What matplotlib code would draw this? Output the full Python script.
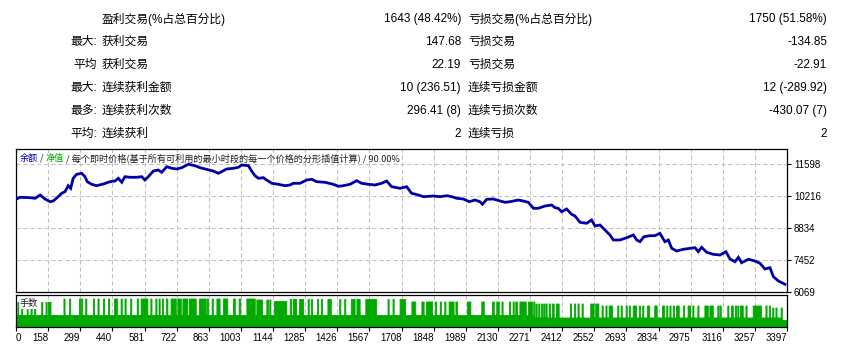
import matplotlib
matplotlib.use("Agg")
import matplotlib.pyplot as plt
import numpy as np

# ---------------- data ----------------
row_prefix = ["", "最大:", "平均", "最大:", "最多:", "平均:"]
win_labels = ["盈利交易(%占总百分比)", "获利交易", "获利交易", "连续获利金额", "连续获利次数", "连续获利"]
win_values = ["1643 (48.42%)", "147.68", "22.19", "10 (236.51)", "296.41 (8)", "2"]
loss_labels = ["亏损交易(%占总百分比)", "亏损交易", "亏损交易", "连续亏损金额", "连续亏损次数", "连续亏损"]
loss_values = ["1750 (51.58%)", "-134.85", "-22.91", "12 (-289.92)", "-430.07 (7)", "2"]

x_tick_labels = ["0", "158", "299", "440", "581", "722", "863", "1003", "1144", "1285",
                 "1426", "1567", "1708", "1848", "1989", "2130", "2271", "2412", "2552",
                 "2693", "2834", "2975", "3116", "3257", "3397"]
y_ticks = [6069, 7452, 8834, 10216, 11598]
y_top = 12245
n_trades = 3393

balance_trade = [0, 18, 62, 84, 106, 128, 150, 164, 186, 201, 216, 230, 241, 252, 267, 289, 304, 314,
                 333, 355, 385, 414, 436, 451, 466, 480, 502, 532, 554, 568, 583, 605, 627, 642, 664,
                 686, 708, 730, 759, 789, 811, 840, 869, 891, 906, 928, 958, 980, 994, 1024, 1038,
                 1053, 1068, 1090, 1104, 1127, 1156, 1185, 1207, 1222, 1251, 1281, 1303, 1325, 1361,
                 1398, 1420, 1442, 1472, 1501, 1523, 1552, 1582, 1611, 1633, 1655, 1692, 1721, 1743,
                 1773, 1795, 1839, 1868, 1898, 1920, 1942, 1971, 1997, 2022, 2044, 2055, 2074, 2103,
                 2133, 2155, 2177, 2213, 2235, 2257, 2280, 2301, 2331, 2360, 2375, 2389, 2404, 2426,
                 2448, 2463, 2485, 2514, 2536, 2551, 2573, 2595, 2617, 2632, 2661, 2691, 2720, 2735,
                 2749, 2767, 2793, 2815, 2837, 2859, 2874, 2889, 2911, 2940, 2970, 2992, 3006, 3021,
                 3043, 3072, 3102, 3128, 3146, 3168, 3183, 3197, 3227, 3256, 3278, 3300, 3322, 3337,
                 3359, 3388]
balance_value = [10073, 10159, 10142, 10116, 10258, 10086, 9969, 9999, 10185, 10332, 10401, 10660,
                 10548, 10980, 11152, 11196, 11049, 10833, 10721, 10660, 10734, 10833, 10863, 10980,
                 10807, 11049, 11023, 11023, 11049, 10906, 11049, 11295, 11338, 11239, 11481, 11412,
                 11381, 11437, 11584, 11524, 11437, 11368, 11295, 11196, 11265, 11381, 11412, 11455,
                 11554, 11524, 11295, 11092, 10980, 11006, 10906, 10764, 10721, 10660, 10690, 10764,
                 10764, 10906, 10937, 10833, 10807, 10721, 10634, 10660, 10721, 10876, 10764, 10721,
                 10690, 10764, 10863, 10617, 10548, 10617, 10332, 10258, 10185, 10215, 10185, 10228,
                 10185, 10116, 10086, 9969, 10042, 9969, 9857, 10073, 10086, 9999, 9943, 9969, 10042,
                 9999, 9943, 9684, 9684, 9783, 9827, 9710, 9684, 9537, 9654, 9425, 9351, 9079, 9036,
                 9179, 8920, 8963, 8747, 8531, 8315, 8315, 8414, 8531, 8315, 8241, 8457, 8501, 8501,
                 8604, 8241, 8315, 7956, 7840, 7913, 7956, 7982, 7810, 8000, 7784, 7697, 7667, 7810,
                 7494, 7378, 7568, 7334, 7481, 7408, 7309, 7062, 7119, 6730, 6544, 6402]

# volume (lots per trade): base level by era, tall spikes by trade ranges
base_start = [0, 2280, 3370]
base_lot = [0.12, 0.095, 0.07]
tall_era_start = [0, 200, 1050, 1130, 1200, 1700, 2280, 2560, 3330]
tall_era_lot = [0.25, 0.285, 0.275, 0.26, 0.28, 0.255, 0.235, 0.215, 0.195]
tall_ranges = [(6, 10), (23, 27), (47, 51), (64, 69), (80, 85), (111, 116), (130, 135), (141, 152),
               (209, 214), (234, 239), (277, 282), (287, 292), (305, 310), (339, 344), (359, 364),
               (383, 388), (405, 410), (432, 446), (461, 466), (478, 483), (503, 508), (532, 537),
               (549, 579), (592, 597), (614, 619), (628, 633), (643, 648), (660, 667), (681, 704),
               (711, 726), (733, 755), (762, 792), (806, 836), (841, 846),
               (862, 867), (883, 897), (912, 931), (956, 964), (981, 988), (1015, 1052), (1059, 1084),
               (1103, 1110), (1116, 1121), (1137, 1191), (1206, 1213), (1220, 1234), (1247, 1265),
               (1285, 1290), (1299, 1304), (1326, 1331), (1343, 1348), (1372, 1387), (1424, 1429),
               (1446, 1451), (1475, 1492), (1500, 1514), (1539, 1587), (1637, 1642), (1659, 1664),
               (1690, 1714),
               (1742, 1759), (1786, 1796), (1806, 1833), (1846, 1851), (1867, 1872), (1887, 1892),
               (1906, 1928), (1936, 1943), (1987, 2002), (2050, 2061), (2097, 2105), (2116, 2127),
               (2139, 2144), (2172, 2177), (2188, 2193), (2200, 2207), (2218, 2246), (2256, 2273),
               (2279, 2284), (2289, 2294), (2301, 2306), (2313, 2318), (2323, 2328), (2333, 2338),
               (2347, 2354), (2362, 2369), (2379, 2391), (2440, 2445), (2458, 2463), (2474, 2479),
               (2492, 2497), (2530, 2545), (2552, 2566),
               (2580, 2585), (2597, 2602), (2611, 2626), (2649, 2654), (2664, 2669), (2686, 2691),
               (2700, 2705), (2717, 2732), (2744, 2749), (2759, 2764), (2780, 2790), (2812, 2823),
               (2846, 2856), (2865, 2870), (2879, 2884), (2894, 2899), (2908, 2920), (2938, 2943),
               (2959, 2970), (2980, 2985), (3002, 3007), (3033, 3048), (3055, 3070), (3090, 3095),
               (3100, 3105), (3134, 3139), (3150, 3158), (3167, 3172), (3178, 3183), (3190, 3202),
               (3214, 3219), (3246, 3282), (3302, 3307), (3317, 3322), (3332, 3337), (3346, 3351),
               (3369, 3374)]

# ---------------- style ----------------
W, H = 841, 345
BLUE = "#0000AA"
GREEN = "#00AA00"
GRID = "#C0C0C0"
TXT_FONT = ["Liberation Sans", "Noto Sans CJK SC"]
CJK_FONT = ["Noto Sans CJK SC", "DejaVu Sans"]

fig = plt.figure(figsize=(W / 100, H / 100), dpi=100)
fig.patch.set_facecolor("white")


def fx(px):
    return px / W


def fy(py):
    return 1 - py / H


# ---------------- stats table ----------------
for i in range(len(win_labels)):
    y = fy(19 + 23 * i)
    kw = dict(fontsize=8.5, family=TXT_FONT, va="center", color="#000000")
    if row_prefix[i]:
        fig.text(fx(97), y, row_prefix[i], ha="right", **kw)
    fig.text(fx(102), y, win_labels[i], ha="left", **kw)
    fig.text(fx(461), y, win_values[i], ha="right", **kw)
    fig.text(fx(468), y, loss_labels[i], ha="left", **kw)
    fig.text(fx(827), y, loss_values[i], ha="right", **kw)

# ---------------- axes ----------------
ax = fig.add_axes([fx(16), fy(292), fx(787) - fx(16), fy(149) - fy(292)])
axv = fig.add_axes([fx(16), fy(327), fx(787) - fx(16), fy(295) - fy(327)])

xmax = float(x_tick_labels[-1])
xt = np.linspace(0, xmax, len(x_tick_labels))

for a in (ax, axv):
    a.set_xlim(0, xmax)
    for s in a.spines.values():
        s.set_color("black")
        s.set_linewidth(0.9)
    a.set_xticks(xt)
    a.grid(True, axis="x", color=GRID, linestyle=(0, (4, 2.7)), linewidth=0.75)
    a.set_axisbelow(True)

# balance curve
ax.plot(balance_trade, balance_value, color=BLUE, linewidth=2.0, solid_joinstyle="miter", zorder=3)
ax.set_ylim(y_ticks[0], y_top)
ax.set_yticks(y_ticks)
ax.set_yticklabels([str(v) for v in y_ticks], fontsize=7, family=TXT_FONT)
ax.yaxis.tick_right()
ax.tick_params(axis="y", direction="out", length=3, width=0.8, pad=2, colors="black")
ax.tick_params(axis="x", length=0, labelbottom=False)
ax.grid(True, axis="y", color=GRID, linestyle=(0, (4, 2.7)), linewidth=0.75)

# header text
t1 = ax.text(0.0052, 0.937, "余额", transform=ax.transAxes, va="center", ha="left",
             fontsize=6.6, family=CJK_FONT, color=BLUE)
t2 = ax.annotate(" / ", xy=(1, 0.5), xycoords=t1, va="center", ha="left",
                 fontsize=6.6, family=CJK_FONT, color="#202020")
t3 = ax.annotate("净值", xy=(1, 0.5), xycoords=t2, va="center", ha="left",
                 fontsize=6.6, family=CJK_FONT, color=GREEN)
ax.annotate(" / 每个即时价格(基于所有可利用的最小时段的每一个价格的分形插值计算) / 90.00%",
            xy=(1, 0.5), xycoords=t3, va="center", ha="left",
            fontsize=6.6, family=CJK_FONT, color="#202020")

# volume panel
lots = np.zeros(n_trades)
for k, s in enumerate(base_start):
    lots[s:] = base_lot[k]
for (s, e) in tall_ranges:
    era = np.searchsorted(tall_era_start, s, side="right") - 1
    lots[s:e] = tall_era_lot[era]
xv = np.arange(n_trades + 1)
axv.fill_between(xv, np.append(lots, lots[-1]), step="post", color=GREEN, linewidth=0.6,
                 edgecolor=GREEN, antialiased=False, zorder=2)
axv.set_ylim(0, 0.32)
axv.set_yticks([])
axv.set_xticklabels(x_tick_labels, fontsize=7, family=TXT_FONT)
for i, lab in enumerate(axv.get_xticklabels()):
    lab.set_ha("left" if i == 0 else "right")
axv.tick_params(axis="x", direction="out", length=3, width=0.8, pad=1.5, colors="black")
axv.text(0.005, 0.72, "手数", transform=axv.transAxes, va="center", ha="left",
         fontsize=6.6, family=CJK_FONT, color="#202020",
         bbox=dict(facecolor="white", edgecolor="none", pad=0.2), zorder=5)

fig.savefig("out.png", dpi=100, facecolor="white")
